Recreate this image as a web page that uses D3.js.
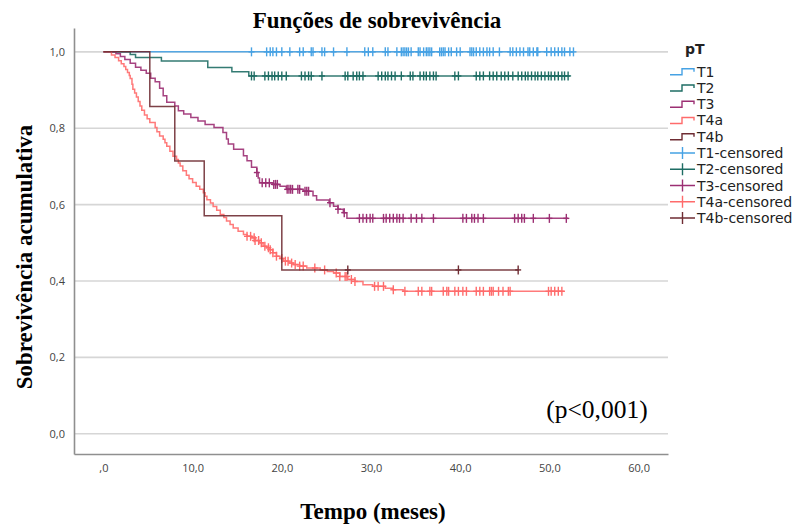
<!DOCTYPE html>
<html>
<head>
<meta charset="utf-8">
<script src="https://cdn.jsdelivr.net/npm/d3@7"></script>
<style>
  html, body { margin: 0; padding: 0; background: #fff; }
  svg { display: block; }
</style>
</head>
<body>
<svg id="chart" width="793" height="528"></svg>
<script>
// Kaplan-Meier survival by pT stage (months)
const groups = ["T1", "T2", "T3", "T4a", "T4b"];
const colors = ["#46a2e4", "#1e6d64", "#9c2f73", "#ff6b6b", "#6f2c33"];

// [time, survival after the drop]
const t1Steps = [];
const t2Steps = [[3.0,0.993],[3.6,0.985],[6.5,0.976],[11.7,0.959],[14.4,0.948],[16.3,0.937]];
const t3Steps = [[1.4,0.995],[1.9,0.988],[2.4,0.980],[3.0,0.970],[3.6,0.960],[4.2,0.952],[4.8,0.944],
  [5.3,0.931],[5.8,0.922],[6.3,0.905],[6.7,0.885],[7.1,0.868],[8.0,0.858],[8.4,0.846],[9.0,0.837],
  [9.8,0.828],[10.6,0.819],[11.4,0.810],[12.4,0.802],[13.4,0.789],[13.8,0.772],[14.0,0.759],
  [14.6,0.745],[15.7,0.728],[16.1,0.715],[16.6,0.698],[17.2,0.684],[17.35,0.670],[17.5,0.657],
  [19.0,0.653],[19.8,0.648],[20.5,0.640],[22.4,0.635],[23.5,0.623],[23.9,0.612],[25.3,0.605],
  [25.8,0.596],[26.3,0.588],[26.9,0.579],[27.3,0.564]];
const t4aSteps = [[0.9,0.992],[1.3,0.985],[1.7,0.977],[2.0,0.969],[2.3,0.962],[2.5,0.954],[2.7,0.946],
  [2.9,0.938],[3.0,0.930],[3.2,0.915],[3.3,0.902],[3.5,0.892],[3.7,0.882],[3.9,0.870],[4.1,0.858],
  [4.3,0.847],[4.6,0.835],[4.9,0.825],[5.2,0.815],[5.8,0.802],[6.0,0.791],[6.3,0.780],[6.7,0.771],
  [6.9,0.762],[7.1,0.753],[7.45,0.740],[7.8,0.727],[8.2,0.718],[8.4,0.709],[8.6,0.701],[8.9,0.689],
  [9.3,0.677],[9.6,0.668],[10.0,0.658],[10.4,0.648],[10.8,0.640],[11.2,0.631],[11.4,0.622],
  [11.6,0.613],[12.0,0.604],[12.3,0.595],[12.7,0.585],[13.1,0.574],[13.5,0.566],[13.8,0.557],
  [14.2,0.548],[14.55,0.539],[15.1,0.530],[15.7,0.522],[16.1,0.517],[16.6,0.513],[17.0,0.506],
  [17.5,0.500],[17.9,0.491],[18.3,0.487],[18.7,0.482],[19.0,0.474],[19.4,0.465],[19.8,0.459],
  [20.2,0.452],[20.8,0.447],[21.3,0.443],[22.0,0.439],[22.8,0.434],[24.3,0.429],[25.1,0.425],
  [25.8,0.421],[26.5,0.412],[27.4,0.404],[28.2,0.399],[29.1,0.390],[30.2,0.386],[31.6,0.381],
  [32.5,0.377],[33.6,0.373]];
const t4bSteps = [[5.2,0.857],[8.0,0.714],[11.3,0.571],[20.0,0.429]];

// last follow-up time of each curve
const endTimes = [52.7, 52.3, 52.1, 51.7, 46.5];

// censored observations (months)
const t1Censored = [16.6,18.3,18.7,19.0,19.4,20.0,20.9,22.0,22.4,23.3,23.5,24.5,24.8,25.8,27.3,29.3,29.7,
  30.2,31.6,31.9,32.9,33.4,33.6,33.8,34.0,34.2,34.5,35.3,35.5,35.9,36.2,36.4,36.6,36.8,37.7,37.9,38.1,
  38.3,38.7,39.0,39.6,40.0,41.1,41.3,41.5,41.8,42.2,42.6,43.0,43.3,43.7,44.4,45.6,45.9,46.3,46.7,47.1,
  47.6,47.8,48.2,48.6,48.7,49.7,50.2,50.6,51.0,51.4,51.7,52.3,52.7];
const t2Censored = [16.6,16.9,18.1,18.5,18.9,19.2,19.6,20.0,20.5,22.2,22.6,23.0,23.3,24.5,27.1,27.4,28.0,
  28.4,28.7,29.1,30.8,31.2,31.6,31.9,32.3,32.7,33.4,34.4,34.7,35.5,35.9,36.2,36.6,37.0,37.3,39.4,39.8,
  41.8,42.2,42.6,43.3,43.7,44.1,44.6,45.0,45.4,45.9,46.5,46.9,47.3,47.6,48.0,48.4,48.7,49.1,49.5,49.9,
  50.2,50.6,51.0,51.4,51.7,52.1];
const t3Censored = [17.2,17.8,18.2,18.6,19.1,19.3,19.5,20.6,20.8,21.0,21.2,21.8,22.0,22.6,22.8,23.0,25.4,
  26.3,27.0,28.7,29.1,29.5,29.9,30.2,31.4,31.7,32.1,32.5,32.9,33.2,33.6,34.5,35.1,35.7,37.0,40.3,40.7,
  41.3,41.6,42.0,42.6,46.1,46.5,46.9,47.2,48.2,50.0,51.9];
const t4aCensored = [16.1,16.5,16.9,17.0,17.4,17.7,18.1,18.5,18.7,19.0,19.4,20.0,20.4,20.7,21.1,21.5,22.0,
  22.4,23.7,24.8,26.1,26.5,27.1,27.3,27.8,28.2,30.4,30.8,31.4,32.5,33.8,35.3,35.7,36.6,36.8,38.1,38.5,
  38.7,39.4,39.8,40.3,40.7,41.8,42.2,42.6,43.3,43.5,43.7,44.3,44.8,45.4,45.6,49.9,50.2,50.6,51.0,51.4];
const t4bCensored = [27.4, 39.8, 46.5];

const xTicks = [0, 10, 20, 30, 40, 50, 60];
const yTicks = [0, 0.2, 0.4, 0.6, 0.8, 1.0];

const stepsList = [t1Steps, t2Steps, t3Steps, t4aSteps, t4bSteps];
const censoredList = [t1Censored, t2Censored, t3Censored, t4aCensored, t4bCensored];

const svg = d3.select("#chart");
const x = d3.scaleLinear().domain([-3.3, 63.3]).range([74, 668]);
const y = d3.scaleLinear().domain([-0.053, 1.0625]).range([454, 28]);
const commaFmt = d => d === 0 ? ",0" : d3.format(".1f")(d).replace(".", ",");

// gridlines
svg.append("g").selectAll("line").data(yTicks).join("line")
  .attr("x1", x.range()[0]).attr("x2", x.range()[1])
  .attr("y1", d => y(d)).attr("y2", d => y(d))
  .attr("stroke", "#d6d6d6").attr("stroke-width", 1.6);

// axes
const xAxis = svg.append("g").attr("transform", `translate(0,${y.range()[0]})`)
  .call(d3.axisBottom(x).tickValues(xTicks).tickSize(0).tickPadding(10).tickFormat(commaFmt));
xAxis.select(".domain").attr("stroke", "#8f8f8f").attr("stroke-width", 1.6);
xAxis.selectAll("text").attr("font-family", "'Open Sans', sans-serif").attr("font-size", 11).attr("fill", "#444");

const yAxis = svg.append("g").attr("transform", `translate(${x.range()[0]},0)`)
  .call(d3.axisLeft(y).tickValues(yTicks).tickSize(0).tickPadding(9)
    .tickFormat(d => d3.format(".1f")(d).replace(".", ",")));
yAxis.select(".domain").attr("stroke", "#8f8f8f").attr("stroke-width", 1.6);
yAxis.selectAll("text").attr("font-family", "'Open Sans', sans-serif").attr("font-size", 11).attr("fill", "#444");

// survival curves
const line = d3.line().x(d => x(d[0])).y(d => y(d[1])).curve(d3.curveStepAfter);
const survivalAt = (steps, t) => {
  let s = 1;
  for (const [ts, v] of steps) { if (ts <= t) s = v; else break; }
  return s;
};

groups.forEach((g, i) => {
  const steps = stepsList[i];
  const pts = [[0, 1], ...steps, [endTimes[i], steps.length ? steps[steps.length - 1][1] : 1]];
  svg.append("path").datum(pts)
    .attr("d", line).attr("fill", "none")
    .attr("stroke", colors[i]).attr("stroke-width", 1.5).attr("stroke-opacity", 0.9);

  const cg = svg.append("g").attr("stroke", colors[i]).attr("stroke-width", 1.4);
  cg.selectAll("line.v").data(censoredList[i]).join("line").attr("class", "v")
    .attr("x1", d => x(d)).attr("x2", d => x(d))
    .attr("y1", d => y(survivalAt(steps, d)) - 4.5).attr("y2", d => y(survivalAt(steps, d)) + 4.5);
  cg.selectAll("line.h").data(censoredList[i]).join("line").attr("class", "h")
    .attr("x1", d => x(d) - 3).attr("x2", d => x(d) + 3)
    .attr("y1", d => y(survivalAt(steps, d))).attr("y2", d => y(survivalAt(steps, d)));
});

// titles
const serif = "'Liberation Serif', 'Times New Roman', serif";
svg.append("text").attr("x", 377).attr("y", 28).attr("text-anchor", "middle")
  .attr("font-family", serif).attr("font-weight", "bold").attr("font-size", 23)
  .text("Funções de sobrevivência");
svg.append("text").attr("transform", "translate(32,257) rotate(-90)").attr("text-anchor", "middle")
  .attr("font-family", serif).attr("font-weight", "bold").attr("font-size", 23)
  .text("Sobrevivência acumulativa");
svg.append("text").attr("x", 373).attr("y", 519).attr("text-anchor", "middle")
  .attr("font-family", serif).attr("font-weight", "bold").attr("font-size", 23)
  .text("Tempo (meses)");
svg.append("text").attr("x", 597).attr("y", 418).attr("text-anchor", "middle")
  .attr("font-family", serif).attr("font-size", 25.5)
  .text("(p<0,001)");

// legend
const legend = svg.append("g");
legend.append("text").attr("x", 685).attr("y", 54)
  .attr("font-family", "'DejaVu Sans', sans-serif").attr("font-weight", "bold").attr("font-size", 14)
  .attr("fill", "#222").text("pT");
const legendItems = [
  ...groups.map((g, i) => ({ label: g, color: colors[i], kind: "step" })),
  ...groups.map((g, i) => ({ label: g + "-censored", color: colors[i], kind: "cens" }))
];
legendItems.forEach((d, k) => {
  const cy = 71.7 + k * 16.26;
  const it = legend.append("g").attr("stroke", d.color).attr("fill", "none").attr("stroke-width", 1.4);
  if (d.kind === "step") {
    it.append("path").attr("d", `M670,${cy + 3}H682V${cy - 3}H694V${cy}`);
  } else {
    it.append("path").attr("d", `M670,${cy}H695M682.5,${cy - 6}V${cy + 6}`);
  }
  legend.append("text").attr("x", 697).attr("y", cy + 5)
    .attr("font-family", "'DejaVu Sans', sans-serif").attr("font-size", 14)
    .attr("fill", "#222").text(d.label);
});
</script>
</body>
</html>
